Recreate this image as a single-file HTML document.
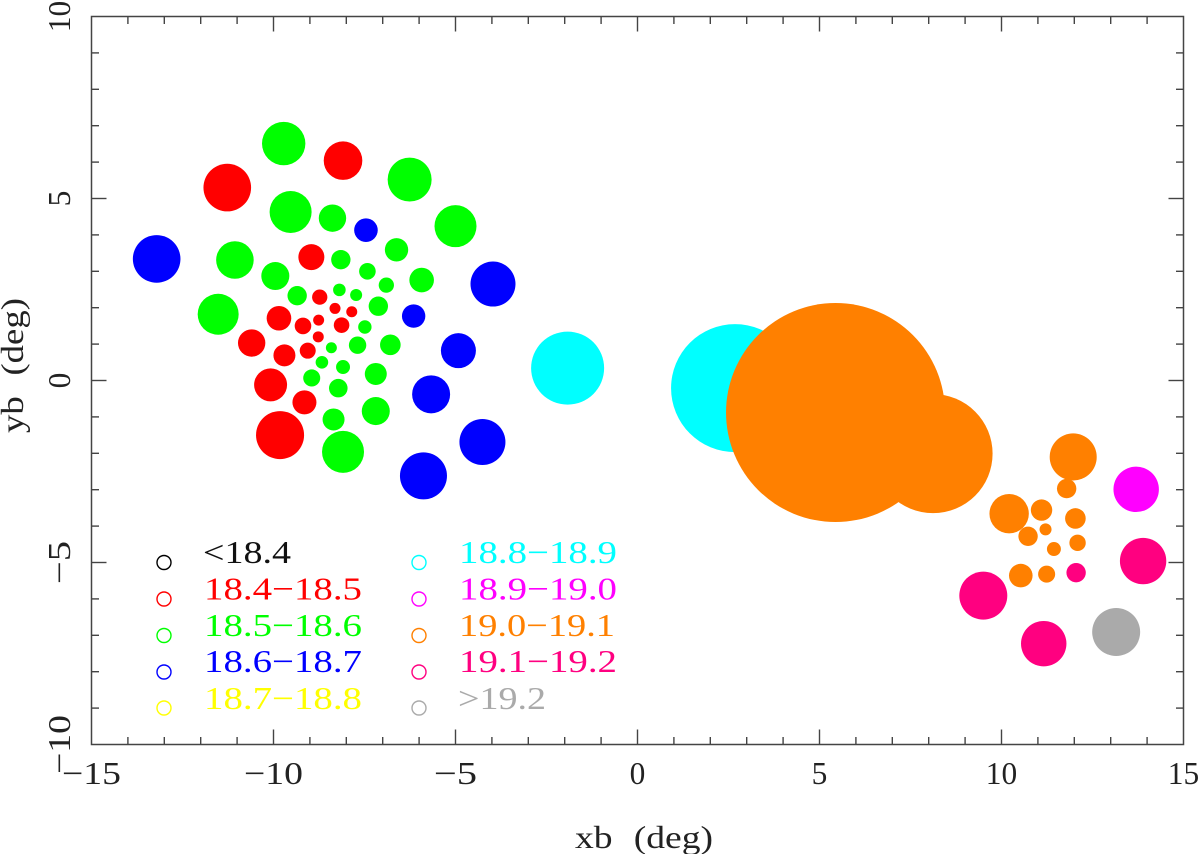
<!DOCTYPE html>
<html lang="en">
<head>
<meta charset="utf-8">
<title>xb vs yb scatter</title>
<style>
html,body{margin:0;padding:0;background:#fff;}
svg{display:block;}
text{font-family:"Liberation Serif",serif;font-size:32px;}
.title{word-spacing:10px;}
</style>
</head>
<body>
<svg id="chart" xmlns="http://www.w3.org/2000/svg" width="1200" height="854" viewBox="0 0 1200 854">
  <rect x="0" y="0" width="1200" height="854" fill="#fff"/>
  <g id="bubbles"></g>
  <rect x="91.5" y="16.5" width="1092" height="728" fill="none" stroke="#444" stroke-width="1.5"/>
  <g id="ticks" stroke="#444" stroke-width="1.4"></g>
  <g id="tick-labels" fill="#222"></g>
  <text class="title" x="575" y="848" textLength="138" lengthAdjust="spacingAndGlyphs" fill="#222">xb (deg)</text>
  <text class="title" transform="translate(23,433) rotate(-90)" textLength="135" lengthAdjust="spacingAndGlyphs" fill="#222">yb (deg)</text>
  <g fill="none" stroke-width="1.4">
    <circle cx="164" cy="562.5" r="7" stroke="#000"/>
    <circle cx="164" cy="599" r="7" stroke="#f00"/>
    <circle cx="164" cy="635.5" r="7" stroke="#0f0"/>
    <circle cx="164" cy="672" r="7" stroke="#00f"/>
    <circle cx="164" cy="708" r="7" stroke="#ff0"/>
    <circle cx="419" cy="562.5" r="7" stroke="#0ff"/>
    <circle cx="419" cy="599" r="7" stroke="#f0f"/>
    <circle cx="419" cy="635.5" r="7" stroke="#ff8000"/>
    <circle cx="419" cy="672" r="7" stroke="#ff0080"/>
    <circle cx="419" cy="708" r="7" stroke="#aaa"/>
  </g>
  <g>
    <text x="203" y="563" textLength="88" lengthAdjust="spacingAndGlyphs" fill="#111">&lt;18.4</text>
    <text x="204" y="599.5" textLength="158" lengthAdjust="spacingAndGlyphs" fill="#f00">18.4−18.5</text>
    <text x="204" y="636" textLength="158" lengthAdjust="spacingAndGlyphs" fill="#0f0">18.5−18.6</text>
    <text x="204" y="672" textLength="158" lengthAdjust="spacingAndGlyphs" fill="#00f">18.6−18.7</text>
    <text x="204" y="709" textLength="158" lengthAdjust="spacingAndGlyphs" fill="#ff0">18.7−18.8</text>
    <text x="459" y="563" textLength="158" lengthAdjust="spacingAndGlyphs" fill="#0ff">18.8−18.9</text>
    <text x="459" y="599.5" textLength="158" lengthAdjust="spacingAndGlyphs" fill="#f0f">18.9−19.0</text>
    <text x="459" y="636" textLength="156" lengthAdjust="spacingAndGlyphs" fill="#ff8000">19.0−19.1</text>
    <text x="459" y="672" textLength="158" lengthAdjust="spacingAndGlyphs" fill="#ff0080">19.1−19.2</text>
    <text x="458" y="709" textLength="88" lengthAdjust="spacingAndGlyphs" fill="#aaa">&gt;19.2</text>
  </g>
</svg>
<script>
const xTickLabels = ["−15", "−10", "−5", "0", "5", "10", "15"];
const xTickValues = [-15, -10, -5, 0, 5, 10, 15];
const yTickLabels = ["−10", "−5", "0", "5", "10"];
const yTickValues = [-10, -5, 0, 5, 10];

const redX = [-8.09, -11.27, -8.96, -8.73, -9.85, -9.19, -8.76, -8.31, -7.85, -8.13, -10.60, -9.70, -9.06, -8.77, -10.08, -9.15, -9.82];
const redY = [6.04, 5.30, 3.39, 2.29, 1.71, 1.50, 1.66, 1.98, 1.89, 1.52, 1.03, 0.69, 0.82, 1.20, -0.12, -0.60, -1.50];
const redR = [0.53, 0.654, 0.357, 0.21, 0.338, 0.228, 0.151, 0.151, 0.151, 0.214, 0.376, 0.302, 0.22, 0.151, 0.453, 0.33, 0.66];

const greenX = [-9.72, -9.53, -8.38, -11.06, -8.15, -7.42, -6.62, -5.93, -9.95, -9.35, -8.19, -7.73, -6.90, -7.12, -11.52, -7.49, -7.69, -6.79, -8.41, -8.67, -8.09, -7.19, -8.95, -8.22, -7.19, -8.35, -8.09, -6.26, -5.00];
const greenY = [6.51, 4.63, 4.46, 3.31, 3.32, 3.00, 3.59, 2.76, 2.87, 2.33, 2.49, 2.35, 2.62, 2.04, 1.82, 1.47, 0.97, 0.98, 0.90, 0.50, 0.37, 0.18, 0.07, -0.21, -0.84, -1.07, -1.96, 5.52, 4.24];
const greenR = [0.596, 0.577, 0.376, 0.516, 0.266, 0.228, 0.321, 0.338, 0.385, 0.266, 0.173, 0.165, 0.21, 0.266, 0.563, 0.184, 0.239, 0.283, 0.151, 0.173, 0.192, 0.302, 0.234, 0.255, 0.385, 0.302, 0.577, 0.604, 0.577];

const blueX = [-7.46, -13.21, -6.15, -3.97, -4.92, -5.67, -4.26, -5.88];
const blueY = [4.13, 3.34, 1.77, 2.65, 0.82, -0.38, -1.69, -2.62];
const blueR = [0.324, 0.654, 0.321, 0.618, 0.481, 0.522, 0.632, 0.646];

const cyanX = [-1.92, 2.68];
const cyanY = [0.34, -0.21];
const cyanR = [1.003, 1.758];

const magentaX = [13.70];
const magentaY = [-2.99];
const magentaR = [0.624];

const orangeX = [5.44, 8.12, 11.97, 11.79, 10.21, 11.10, 12.03, 10.73, 11.21, 11.44, 12.09, 10.53, 11.24];
const orangeY = [-0.88, -2.01, -2.10, -2.97, -3.66, -3.56, -3.79, -4.28, -4.09, -4.63, -4.46, -5.36, -5.32];
const orangeR = [3.008, 1.635, 0.646, 0.266, 0.541, 0.294, 0.283, 0.266, 0.165, 0.192, 0.225, 0.324, 0.234];

const pinkX = [13.89, 12.05, 9.50, 11.16];
const pinkY = [-4.96, -5.28, -5.91, -7.23];
const pinkR = [0.637, 0.266, 0.659, 0.624];

const grayX = [13.15];
const grayY = [-6.91];
const grayR = [0.659];

const NS = "http://www.w3.org/2000/svg";
const PX_PER_UNIT = 36.4;
function xScale(v) { return 637.5 + v * PX_PER_UNIT; }
function yScale(v) { return 380.5 - v * PX_PER_UNIT; }
function rScale(v) { return v * PX_PER_UNIT; }
function labelWidth(s) {
  const digits = s.replace("−", "").length;
  return digits * 15.7 + (s.charAt(0) === "−" ? 27.5 : 0);
}

const bubbles = document.getElementById("bubbles");
function drawSeries(name, xs, ys, rs, color) {
  xs.forEach(function (x, i) {
    const el = document.createElementNS(NS, "circle");
    
    
    el.setAttribute("cx", xScale(x));
    el.setAttribute("cy", yScale(ys[i]));
    el.setAttribute("r", rScale(rs[i]));
    el.setAttribute("fill", color);
    bubbles.appendChild(el);
  });
}
drawSeries("red", redX, redY, redR, "#ff0000");
drawSeries("green", greenX, greenY, greenR, "#00ff00");
drawSeries("blue", blueX, blueY, blueR, "#0000ff");
drawSeries("cyan", cyanX, cyanY, cyanR, "#00ffff");
drawSeries("magenta", magentaX, magentaY, magentaR, "#ff00ff");
drawSeries("orange", orangeX, orangeY, orangeR, "#ff8000");
drawSeries("pink", pinkX, pinkY, pinkR, "#ff0080");
drawSeries("gray", grayX, grayY, grayR, "#aaaaaa");

const ticks = document.getElementById("ticks");
function tickLine(x1, y1, x2, y2, name) {
  const el = document.createElementNS(NS, "line");
  
  
  el.setAttribute("x1", x1);
  el.setAttribute("y1", y1);
  el.setAttribute("x2", x2);
  el.setAttribute("y2", y2);
  ticks.appendChild(el);
}
for (let v = -14; v <= 14; v++) {
  const len = v % 5 === 0 ? 15 : 7.5;
  tickLine(xScale(v), yScale(-10), xScale(v), yScale(-10) - len, "x-tick-bottom");
  tickLine(xScale(v), yScale(10), xScale(v), yScale(10) + len, "x-tick-top");
}
for (let v = -9; v <= 9; v++) {
  const len = v % 5 === 0 ? 15 : 7.5;
  tickLine(xScale(-15), yScale(v), xScale(-15) + len, yScale(v), "y-tick-left");
  tickLine(xScale(15), yScale(v), xScale(15) - len, yScale(v), "y-tick-right");
}

const labels = document.getElementById("tick-labels");
xTickValues.forEach(function (v, i) {
  const el = document.createElementNS(NS, "text");
  
  
  el.setAttribute("x", xScale(v));
  el.setAttribute("y", 784);
  el.setAttribute("text-anchor", "middle");
  el.setAttribute("textLength", labelWidth(xTickLabels[i]));
  el.setAttribute("lengthAdjust", "spacingAndGlyphs");
  el.textContent = xTickLabels[i];
  labels.appendChild(el);
});
yTickValues.forEach(function (v, i) {
  const el = document.createElementNS(NS, "text");
  
  
  el.setAttribute("transform", "translate(70," + yScale(v) + ") rotate(-90)");
  el.setAttribute("text-anchor", "middle");
  el.setAttribute("textLength", labelWidth(yTickLabels[i]));
  el.setAttribute("lengthAdjust", "spacingAndGlyphs");
  el.textContent = yTickLabels[i];
  labels.appendChild(el);
});
</script>
</body>
</html>
